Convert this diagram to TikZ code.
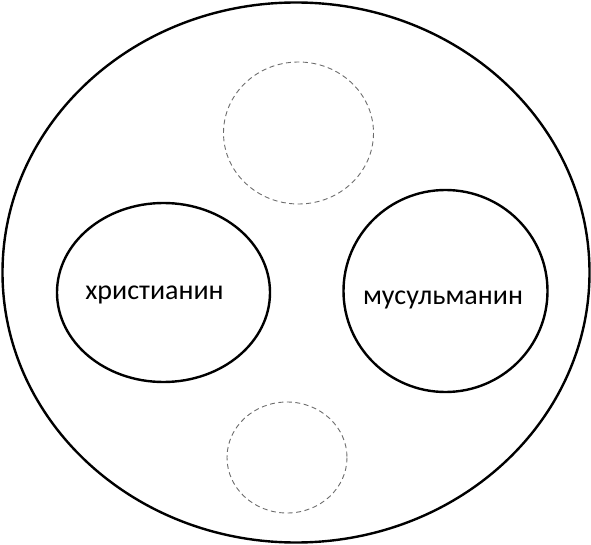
\documentclass[tikz,border=0pt]{standalone}
\usepackage{fontspec}
\setmainfont{Carlito}
\usepackage{tikz}

\begin{document}
\begin{tikzpicture}[x=1pt, y=-1pt,
    set/.style={line width=2.4pt},
    gap/.style={line width=0.9pt, gray!85!black, dash pattern=on 5pt off 3.5pt},
    word/.style={font=\fontsize{28}{34}\selectfont, inner sep=0pt}]
            \useasboundingbox (0, 0) rectangle (591, 545);
            \draw[set] (296, 272.5) ellipse (293.5 and 270);
            \draw[set] (163.5, 292.5) ellipse (106.5 and 89.5);
            \draw[set] (445.5, 291) ellipse (102 and 101);
            \draw[gap] (298.5, 133) ellipse (75 and 71);
            \draw[gap] (287, 457.5) ellipse (60 and 55.5);
            \node[word] (christ) at (154.5, 295) {христианин};
            \node[word] (muslim) at (443, 300) {мусульманин};
          \end{tikzpicture}
\end{document}
